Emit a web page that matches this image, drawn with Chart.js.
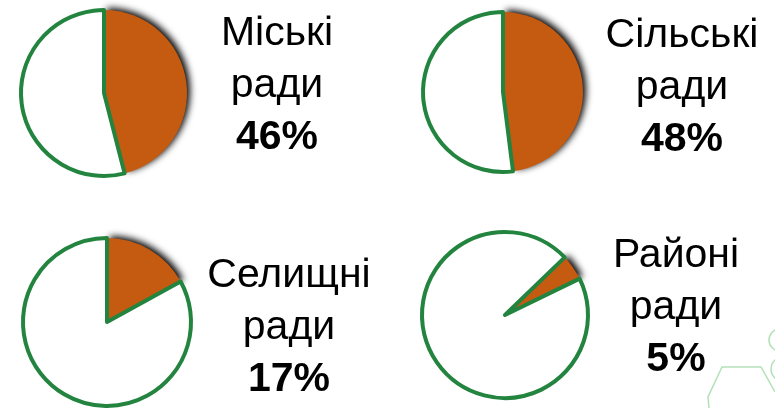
<!DOCTYPE html>
<html>
<head>
<meta charset="utf-8">
<script src="https://cdn.jsdelivr.net/npm/chart.js@4/dist/chart.umd.min.js"></script>
<style>
  html, body { margin: 0; padding: 0; background: #fff; }
  #stage { position: relative; width: 775px; height: 408px; overflow: hidden; }
  .pie { position: absolute; width: 210px; height: 210px; }
  .label {
    position: absolute; width: 200px; text-align: center;
    font-family: "Liberation Sans", Arial, sans-serif; font-size: 41px; line-height: 52px; color: #000;
  }
  .label b { font-weight: bold; }
  #deco { position: absolute; left: 0; top: 0; }
</style>
</head>
<body>
<div id="stage">
  <svg id="deco" width="775" height="408">
    <g fill="none" stroke="#9fd9a6" stroke-width="1.5" opacity="0.8">
      <polyline points="709,408 708,397 722,367 761,367 775,392" />
      <circle cx="780" cy="340" r="11" />
      <circle cx="783" cy="369" r="12" />
    </g>
  </svg>
</div>

<script>
// Data
const categories = ['Міські ради', 'Сільські ради', 'Селищні ради', 'Районі ради'];
const labelLines = [['Міські', 'ради'], ['Сільські', 'ради'], ['Селищні', 'ради'], ['Районі', 'ради']];
const shares = [46, 48, 17, 5];
const others = [54, 52, 83, 95];

const ORANGE = '#C55A11';
const GREEN = '#23843F';

// placement of each pie and its caption
const layout = [
  { cx: 104, cy: 93, r: 83, rot: 0, tx: 277, ty: 5 },
  { cx: 503, cy: 92, r: 80, rot: 0, tx: 682, ty: 7 },
  { cx: 107, cy: 322, r: 84, rot: 0, tx: 289, ty: 247 },
  { cx: 505, cy: 315, r: 83, rot: 46, tx: 676, ty: 227 }
];

// shadow under the orange slice only
const baseDraw = Chart.ArcElement.prototype.draw;
Chart.ArcElement.prototype.draw = function (ctx) {
  if (this.options.backgroundColor === ORANGE) {
    ctx.save();
    ctx.shadowColor = 'rgba(0,0,0,1)';
    ctx.shadowBlur = 7;
    ctx.shadowOffsetX = 3;
    ctx.shadowOffsetY = -2;
    baseDraw.call(this, ctx);
    ctx.restore();
  } else {
    baseDraw.call(this, ctx);
  }
};

const stage = document.getElementById('stage');

categories.forEach((name, i) => {
  const pos = layout[i];
  const canvas = document.createElement('canvas');
  canvas.className = 'pie';
  canvas.style.left = (pos.cx - 105) + 'px';
  canvas.style.top = (pos.cy - 105) + 'px';
  stage.appendChild(canvas);

  new Chart(canvas, {
    type: 'pie',
    data: {
      labels: [name, 'Інші'],
      datasets: [{
        data: [shares[i], others[i]],
        backgroundColor: [ORANGE, '#FFFFFF'],
        borderColor: [ORANGE, GREEN],
        borderWidth: [0, 4],
        borderJoinStyle: 'round'
      }]
    },
    options: {
      responsive: false,
      animation: false,
      events: [],
      radius: pos.r,
      rotation: pos.rot,
      layout: { padding: 0 },
      plugins: { legend: { display: false }, tooltip: { enabled: false } }
    }
  });

  const label = document.createElement('div');
  label.className = 'label';
  label.style.left = (pos.tx - 100) + 'px';
  label.style.top = pos.ty + 'px';
  label.innerHTML = labelLines[i][0] + '<br>' + labelLines[i][1] + '<br><b>' + shares[i] + '%</b>';
  stage.appendChild(label);
});
</script>
</body>
</html>
